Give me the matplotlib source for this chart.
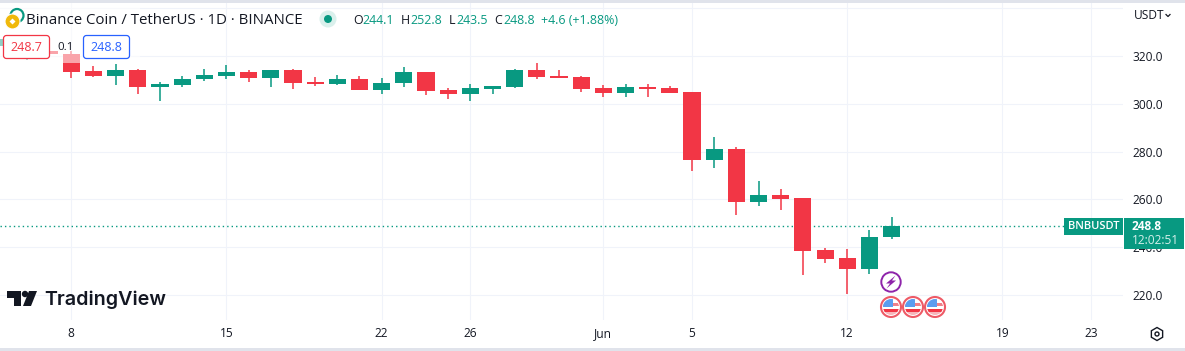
import numpy as np
import pandas as pd
import matplotlib
matplotlib.use('Agg')
import matplotlib.pyplot as plt
import matplotlib.dates as mdates
from matplotlib.patches import Circle, FancyBboxPatch, Polygon, Rectangle, RegularPolygon

plt.rcParams['font.family'] = ['Open Sans', 'DejaVu Sans']

# daily candles, first one is 2023-05-05
days = pd.date_range('2023-05-05', '2023-06-14')
opens = [324.0, 319.0, 322.0,
         320.8, 313.7, 311.6, 314.1, 307.0, 307.9, 310.4, 311.6, 313.3, 310.8, 314.1, 309.1, 308.3, 310.4,
         305.8, 308.7, 313.3, 305.8, 304.1, 306.2, 307.0, 314.1, 311.6, 311.2, 306.6, 304.5, 307.0, 306.6,
         305.0, 276.5, 281.1, 258.9, 261.9, 260.6, 238.9, 235.5, 230.9, 244.1]
closes = [327.0, 322.0, 321.0,
          313.4, 311.6, 314.1, 307.0, 308.3, 310.4, 312.1, 313.3, 310.8, 314.1, 308.7, 308.3, 310.4, 305.8,
          308.7, 313.3, 305.4, 304.1, 306.6, 307.4, 314.1, 311.2, 310.8, 306.2, 304.5, 307.0, 306.2, 304.5,
          276.5, 281.1, 258.9, 261.9, 260.2, 238.4, 235.1, 230.9, 244.3, 248.8]
highs = [327.5, 322.5, 322.5,
         322.0, 316.0, 316.7, 314.4, 309.1, 311.6, 314.4, 316.1, 314.1, 314.1, 314.4, 311.1, 312.0, 311.5,
         310.8, 315.5, 313.3, 306.6, 308.4, 307.4, 314.6, 317.1, 314.1, 311.6, 307.9, 308.3, 308.3, 307.4,
         305.0, 285.9, 282.0, 267.7, 264.4, 260.6, 239.7, 239.3, 247.2, 252.8]
lows = [323.5, 318.5, 320.5,
        310.7, 311.1, 307.9, 304.1, 301.3, 307.2, 309.5, 310.5, 309.1, 307.0, 306.2, 307.4, 307.9, 305.8,
        304.1, 307.0, 303.7, 302.0, 301.2, 304.1, 306.6, 310.4, 310.8, 304.9, 302.7, 302.8, 302.8, 304.5,
        271.9, 273.2, 253.5, 257.3, 255.6, 228.4, 233.4, 220.5, 228.8, 243.5]

price_ticks = [220, 240, 260, 280, 300, 320, 340]
price_labels = ['220.0', '240.0', '260.0', '280.0', '300.0', '320.0', '']
date_ticks = ['2023-05-08', '2023-05-15', '2023-05-22', '2023-05-26', '2023-06-01',
              '2023-06-05', '2023-06-12', '2023-06-19', '2023-06-23']
date_labels = ['8', '15', '22', '26', 'Jun', '5', '12', '19', '23']

RED = '#f23645'
GREEN = '#089981'
INK = '#131722'
GRID = '#f0f3fa'

W, H = 1185, 351
fig = plt.figure(figsize=(W / 100, H / 100), dpi=100)

# price pane, in data coordinates
ax = fig.add_axes([0, (H - 320) / H, 1123 / W, 317 / H])
x = mdates.date2num(days)
colors = [GREEN if c >= o else RED for o, c in zip(opens, closes)]
bottoms = np.minimum(opens, closes)
heights = np.abs(np.array(closes) - np.array(opens))
ax.vlines(x, lows, highs, colors=colors, lw=1.1, zorder=3)
ax.bar(x, heights, bottom=bottoms, width=0.77, color=colors, zorder=3)
ax.axhline(closes[-1], color=GREEN, lw=1, ls=(0, (1, 2.2)), zorder=2)

x0 = mdates.date2num(pd.Timestamp('2023-05-08'))
ax.set_xlim(x0 - 3.216, x0 + 47.44)
ax.set_ylim(209.5, 342.2)
ax.set_xticks(mdates.date2num(pd.to_datetime(date_ticks)))
ax.set_xticklabels(date_labels)
ax.set_yticks(price_ticks)
ax.set_yticklabels(price_labels)
ax.yaxis.tick_right()
ax.tick_params(axis='x', length=0, pad=5, labelsize=8.6, labelcolor=INK)
ax.tick_params(axis='y', length=0, pad=7, labelsize=8.6, labelcolor=INK)
ax.grid(True, color=GRID, lw=0.75)
ax.set_axisbelow(True)
for s in ax.spines.values():
    s.set_visible(False)

# everything else sits on a pixel overlay
ov = fig.add_axes([0, 0, 1, 1], zorder=5)
ov.set_xlim(0, W)
ov.set_ylim(H, 0)
ov.axis('off')
ov.patch.set_alpha(0)

# header fade over the candles, top and bottom page bands
ov.add_patch(Rectangle((0, 3), 140, 60, fc='white', alpha=0.55, lw=0))
ov.add_patch(Rectangle((0, 0), W, 3, fc='#e0e3eb', lw=0))
ov.add_patch(Rectangle((0, 348), W, 3, fc='#e0e3eb', lw=0))

# symbol icons
ov.add_patch(Circle((17, 15.5), 6.5, fc='white', ec=GREEN, lw=1.6))
ov.add_patch(Circle((12.5, 21.5), 7.5, fc='#f0b90b', ec='white', lw=0.8))
ov.add_patch(RegularPolygon((12.5, 21.5), 4, radius=3, fc='white', lw=0))
ov.text(26, 20, 'Binance Coin / TetherUS · 1D · BINANCE', fontsize=10.8, color=INK, va='center')
ov.add_patch(Circle((328, 19), 8.5, fc='#daf0ec', lw=0))
ov.add_patch(Circle((328, 19), 4, fc=GREEN, lw=0))

# OHLC legend
change = closes[-1] - 244.2
pieces = [(353, 'O', INK), (362.5, f'{opens[-1]:.1f}', GREEN),
          (401, 'H', INK), (410, f'{highs[-1]:.1f}', GREEN),
          (449, 'L', INK), (456, f'{lows[-1]:.1f}', GREEN),
          (494, 'C', INK), (503, f'{closes[-1]:.1f}', GREEN),
          (541, f'+{change:.1f} (+1.88%)', GREEN)]
for px, s, c in pieces:
    ov.text(px, 20.5, s, fontsize=8.9, color=c, va='center')

# buy / sell boxes
ov.add_patch(FancyBboxPatch((5, 37), 43, 20, boxstyle='round,pad=1.5,rounding_size=3', fc='white', ec=RED, lw=0.9))
ov.text(26.5, 47.5, '248.7', fontsize=9, color=RED, ha='center', va='center')
ov.text(66, 47, '0.1', fontsize=8.2, color=INK, ha='center', va='center')
ov.add_patch(FancyBboxPatch((85, 37), 43, 20, boxstyle='round,pad=1.5,rounding_size=3', fc='white', ec='#2962ff', lw=0.9))
ov.text(106.5, 47.5, '248.8', fontsize=9, color='#2962ff', ha='center', va='center')

# currency selector
ov.text(1134, 15.5, 'USDT', fontsize=8.6, color=INK, va='center')
ov.plot([1166, 1168, 1170], [14.5, 16.5, 14.5], color=INK, lw=0.9)

# last price labels
ov.add_patch(Rectangle((1064, 218), 59, 17, fc=GREEN, lw=0))
ov.text(1093.5, 226.5, 'BNBUSDT', fontsize=8, color='white', ha='center', va='center', weight='semibold')
ov.add_patch(Rectangle((1124, 218), 60, 31, fc=GREEN, lw=0))
ov.text(1132, 226, f'{closes[-1]:.1f}', fontsize=8.6, color='white', va='center', weight='bold')
ov.text(1132, 240, '12:02:51', fontsize=8.6, color='#d5f0eb', va='center')

# watermark
ov.add_patch(Polygon([(7, 291), (21, 291), (21, 306), (14, 306), (14, 298), (7, 298)], fc=INK, lw=0))
ov.add_patch(Circle((25, 294), 3.2, fc=INK, lw=0))
ov.add_patch(Polygon([(29, 291), (37, 291), (31, 306), (23, 306)], fc=INK, lw=0))
ov.text(44, 299.5, 'TradingView', fontsize=14.2, color=INK, va='center', weight='semibold', family=['Inter', 'DejaVu Sans'])

# settings icon
ov.add_patch(RegularPolygon((1157, 334), 6, radius=6.5, fc='none', ec=INK, lw=1))
ov.add_patch(Circle((1157, 334), 2, fc='none', ec=INK, lw=1))

# event markers under the last candles
ov.add_patch(Circle((891, 282), 9.7, fc='white', ec='#8e24aa', lw=1.4))
ov.add_patch(Polygon([(895.5, 275.5), (886, 283.5), (890, 283.5), (886.5, 288.5), (896, 280.5), (892, 280.5)], fc='#8e24aa', lw=0))
for cx in [891, 913, 935]:
    clip = Circle((cx, 307), 8, fc='white', lw=0)
    ov.add_patch(clip)
    for top, col in [(299, 'white'), (303, '#f0808a'), (306, 'white'), (309, RED), (312, '#f7b5ba')]:
        r = Rectangle((cx - 8, top), 16, 3.2, fc=col, lw=0)
        ov.add_patch(r)
        r.set_clip_path(clip)
    r = Rectangle((cx - 8, 299), 10, 8, fc='#5b9df0', lw=0)
    ov.add_patch(r)
    r.set_clip_path(clip)
    ov.add_patch(Circle((cx, 307), 10, fc='none', ec='#ee5a66', lw=1.5))

fig.savefig('out.png', dpi=100, facecolor='white')
